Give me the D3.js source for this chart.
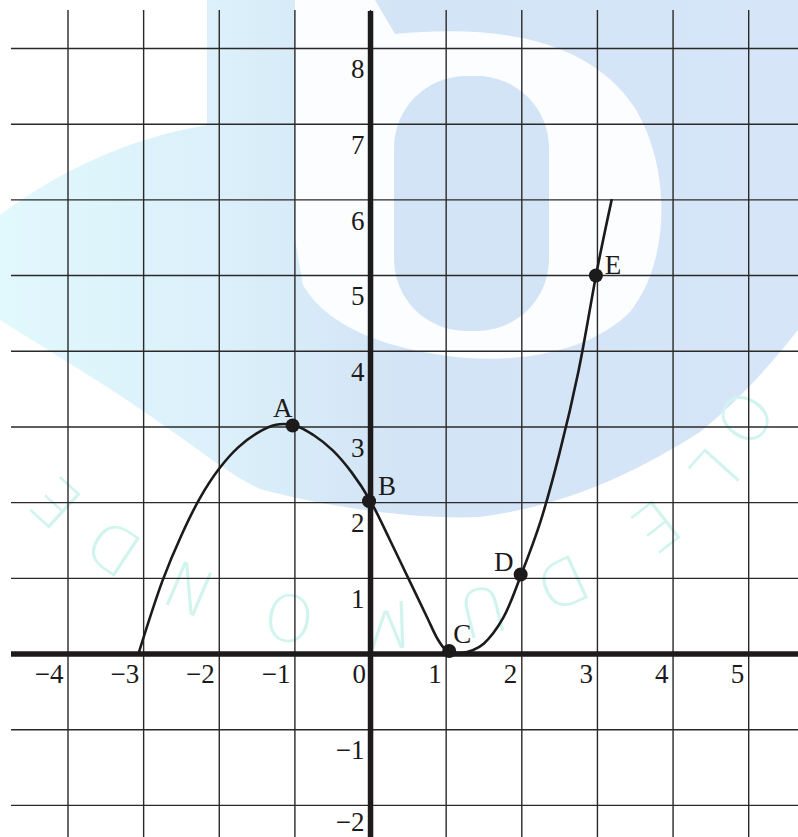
<!DOCTYPE html>
<html>
<head>
<meta charset="utf-8">
<script src="https://cdn.jsdelivr.net/npm/d3@7"></script>
<style>
  html, body { margin: 0; padding: 0; background: #fff; }
  svg { display: block; }
</style>
</head>
<body>
<div id="chart"></div>
<script>
// ---------- data ----------
const xTicks = [-4, -3, -2, -1, 0, 1, 2, 3, 4, 5];
const yTicks = [-2, -1, 1, 2, 3, 4, 5, 6, 7, 8];
const gridX = [-4, -3, -2, -1, 0, 1, 2, 3, 4, 5];
const gridY = [-2, -1, 0, 1, 2, 3, 4, 5, 6, 7, 8];

const curveX = [-3.07, -2.75, -2.5, -2.25, -2.0, -1.75, -1.5, -1.25, -1.0, -0.75, -0.5, -0.25, 0.0, 0.25, 0.5, 0.75, 0.88, 0.97, 1.05, 1.2, 1.35, 1.5, 1.75, 2.0, 2.25, 2.5, 2.75, 3.0, 3.19];
const curveY = [0, 0.97, 1.57, 2.07, 2.45, 2.73, 2.92, 3.03, 3.02, 2.89, 2.69, 2.40, 2.02, 1.52, 1.0, 0.48, 0.21, 0.08, 0.03, 0.015, 0.05, 0.14, 0.47, 1.07, 1.76, 2.66, 3.74, 5.1, 6.01];

const pointNames = ["A", "B", "C", "D", "E"];
const pointX = [-1.03, -0.02, 1.04, 1.985, 2.98];
const pointY = [3.02, 2.02, 0.04, 1.05, 5.0];

const watermarkLetters = ["O", "L", "E", "D", "U", "M", "O", "N", "D", "E"];

// ---------- layout / style ----------
const W = 798, H = 837;
const labelOffset = { A: [-10, -17], B: [18, -15], C: [13, -17], D: [-17, -12], E: [17, -10] };
const letterAngles = [34.5, 42, 52, 65.5, 76, 88, 100, 113, 123.5, 132.5];
const letterRadius = [455, 465, 465, 465, 465, 465, 465, 465, 465, 465];
const ink = "#1c1a1a";
const serif = "'Liberation Serif', 'Times New Roman', serif";

const x = d3.scaleLinear().domain([-4, 5]).range([68, 748.7]);
const y = d3.scaleLinear().domain([-2, 8]).range([805.4, 48.5]);

const svg = d3.select("#chart").append("svg")
  .attr("width", W).attr("height", H);

// ---------- background watermark (decorative) ----------
const defs = svg.append("defs");
const grad = defs.append("linearGradient").attr("id", "wm").attr("x1", "0").attr("x2", "1").attr("y1", "0").attr("y2", "0");
[["0%", "#e1f8fd"], ["28%", "#dbf0fa"], ["50%", "#d3e4f6"], ["100%", "#d6e6f8"]].forEach(s =>
  grad.append("stop").attr("offset", s[0]).attr("stop-color", s[1]));

svg.append("rect").attr("width", W).attr("height", H).attr("fill", "#ffffff");

const wm = svg.append("g").attr("class", "watermark");
wm.append("path")
  .attr("d", "M207,0 L798,0 L798,330 C770,365 740,400 700,432 C640,470 570,505 480,517 C420,520 330,508 260,489 C230,475 200,450 143,411 C110,388 80,370 0,320 L0,215 C60,170 130,138 207,125 Z")
  .attr("fill", "url(#wm)");
wm.append("path")
  .attr("d", "M295,0 L375,0 L395,34 C500,24 590,40 635,108 C672,170 670,262 630,312 C590,352 520,362 467,358 C400,352 330,332 303,285 L295,240 Z")
  .attr("fill", "#fcfdff");
wm.append("rect")
  .attr("x", 394).attr("y", 76).attr("width", 155).attr("height", 255).attr("rx", 72)
  .attr("fill", "#d3e4f6");

const cx0 = 370, cy0 = 160;
wm.selectAll("text.wl").data(watermarkLetters).join("text")
  .attr("class", "wl")
  .attr("transform", (d, i) => {
    const t = letterAngles[i] * Math.PI / 180, r = letterRadius[i];
    return `translate(${cx0 + r * Math.cos(t)},${cy0 + r * Math.sin(t)}) rotate(${letterAngles[i] + 90})`;
  })
  .attr("text-anchor", "middle")
  .attr("dy", "0.36em")
  .attr("font-family", "'DejaVu Sans', sans-serif")
  .attr("font-weight", 200)
  .attr("font-size", 64)
  .attr("fill", "#d2f4ef")
  .text(d => d);

// ---------- grid ----------
const grid = svg.append("g").attr("class", "grid");
grid.selectAll("line.v").data(gridX).join("line")
  .attr("class", "v")
  .attr("x1", d => x(d)).attr("x2", d => x(d))
  .attr("y1", 10).attr("y2", H)
  .attr("stroke", "#2a2828").attr("stroke-width", 1.4);
grid.selectAll("line.h").data(gridY).join("line")
  .attr("class", "h")
  .attr("y1", d => y(d)).attr("y2", d => y(d))
  .attr("x1", 11).attr("x2", W)
  .attr("stroke", "#2a2828").attr("stroke-width", 1.4);

// ---------- main axes ----------
svg.append("line")
  .attr("x1", 11).attr("x2", W).attr("y1", y(0)).attr("y2", y(0))
  .attr("stroke", ink).attr("stroke-width", 5.5);
svg.append("line")
  .attr("x1", x(0)).attr("x2", x(0)).attr("y1", 11).attr("y2", H)
  .attr("stroke", ink).attr("stroke-width", 5.5);

// ---------- tick labels via d3 axes ----------
const xAxis = svg.append("g").attr("transform", `translate(0,${y(0)})`)
  .call(d3.axisBottom(x).tickValues(xTicks).tickSize(0).tickFormat(d3.format("d")));
xAxis.select(".domain").remove();
xAxis.selectAll("text")
  .attr("text-anchor", "end")
  .attr("x", -5).attr("y", 20).attr("dy", "0.34em")
  .attr("font-family", serif).attr("font-size", 27).attr("fill", ink);

const yAxis = svg.append("g").attr("transform", `translate(${x(0)},0)`)
  .call(d3.axisLeft(y).tickValues(yTicks).tickSize(0).tickFormat(d3.format("d")));
yAxis.select(".domain").remove();
yAxis.selectAll("text")
  .attr("text-anchor", "end")
  .attr("x", -6).attr("y", d => d === -2 ? 16 : 20).attr("dy", "0.34em")
  .attr("font-family", serif).attr("font-size", 27).attr("fill", ink);

// ---------- curve ----------
const curvePts = curveX.map((v, i) => [v, curveY[i]]);
svg.append("path")
  .datum(curvePts)
  .attr("d", d3.line().x(d => x(d[0])).y(d => y(d[1])).curve(d3.curveCatmullRom.alpha(0.5)))
  .attr("fill", "none").attr("stroke", ink).attr("stroke-width", 2.6)
  .attr("stroke-linejoin", "round");

// ---------- points ----------
const pts = pointNames.map((n, i) => ({ n, x: pointX[i], y: pointY[i] }));
svg.selectAll("circle.pt").data(pts).join("circle")
  .attr("class", "pt")
  .attr("cx", d => x(d.x)).attr("cy", d => y(d.y)).attr("r", 7)
  .attr("fill", ink);
svg.selectAll("text.pl").data(pts).join("text")
  .attr("class", "pl")
  .attr("x", d => x(d.x) + labelOffset[d.n][0])
  .attr("y", d => y(d.y) + labelOffset[d.n][1])
  .attr("dy", "0.33em")
  .attr("text-anchor", "middle")
  .attr("font-family", serif).attr("font-size", 27).attr("fill", ink)
  .text(d => d.n);
</script>
</body>
</html>
